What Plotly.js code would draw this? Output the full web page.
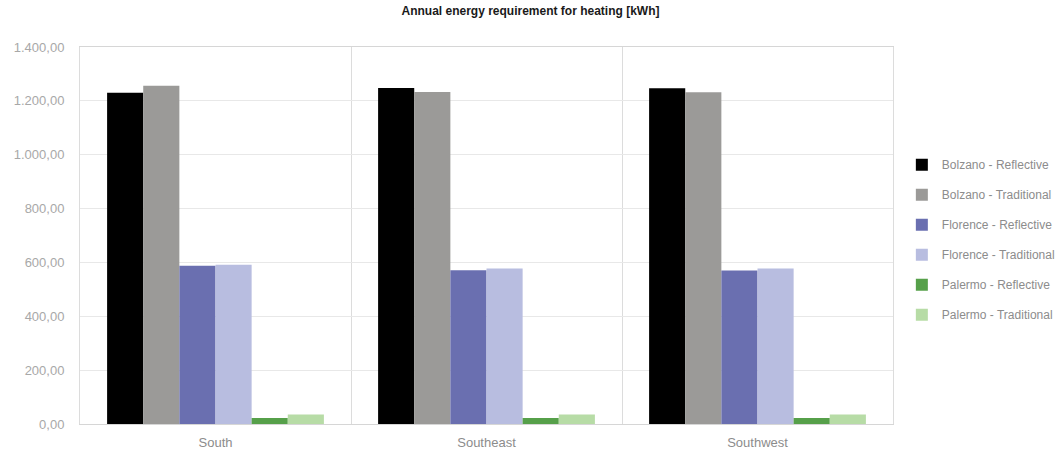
<!DOCTYPE html>
<html><head><meta charset="utf-8">
<script src="https://cdn.plot.ly/plotly-3.0.1.min.js"></script>
<style>html,body{margin:0;padding:0;background:#fff}</style>
</head><body>
<div id="chart" style="width:1061px;height:456px"></div>
<script>
const categories = ["South", "Southeast", "Southwest"];
const seriesNames = ["Bolzano - Reflective", "Bolzano - Traditional", "Florence - Reflective", "Florence - Traditional", "Palermo - Reflective", "Palermo - Traditional"];
const bolzanoReflective = [1230, 1248, 1247];
const bolzanoTraditional = [1256, 1233, 1232];
const florenceReflective = [588, 571, 570];
const florenceTraditional = [591, 577, 577];
const palermoReflective = [22, 22, 22];
const palermoTraditional = [35, 35, 35];
const colors = ["#000000", "#9b9a98", "#6a6fb0", "#b8bde0", "#56a04a", "#b7dca6"];
const values = [bolzanoReflective, bolzanoTraditional, florenceReflective, florenceTraditional, palermoReflective, palermoTraditional];

const font = "'Liberation Sans', Arial, sans-serif";
const traces = values.map((v, i) => ({
  type: "bar", x: categories, y: v, name: seriesNames[i],
  legendgroup: "g" + i,
  marker: {color: colors[i], line: {width: 0}},
  hoverinfo: "skip"
}));

const layout = {
  width: 1061, height: 456,
  margin: {l: 80, r: 168, t: 47, b: 32},
  paper_bgcolor: "#fff", plot_bgcolor: "#fff",
  separators: ",.",
  barmode: "group", bargap: 0.2, bargroupgap: 0,
  title: {text: "Annual energy requirement for heating [kWh]", x: 0.5, xanchor: "center", y: 0.985, yanchor: "top",
    font: {family: font, size: 12, color: "#1a1a1a", weight: "bold"}},
  font: {family: font, color: "#8c8c8c", size: 13},
  xaxis: {tickson: "boundaries", showgrid: true, gridcolor: "#dcdcdc", gridwidth: 1,
    ticks: "", showline: true, linecolor: "#d6d6d6", mirror: true, ticklabelstandoff: 6,
    tickfont: {family: font, size: 13, color: "#8c8c8c"}},
  yaxis: {range: [0, 1400], dtick: 200, tickformat: ",.2f", gridcolor: "#e8e8e8",
    zeroline: false, showline: true, linecolor: "#dcdcdc", mirror: true, ticks: "", ticklabelstandoff: 12,
    tickfont: {family: font, size: 13, color: "#a8a8a8"}},
  legend: {xref: "container", x: 0.85, xanchor: "left", y: 0.489, yanchor: "middle", tracegroupgap: 11,
    font: {family: font, size: 12, color: "#8c8c8c"}, itemwidth: 30},
  showlegend: true
};
Plotly.newPlot("chart", traces, layout, {displayModeBar: false, staticPlot: true});
</script>
</body></html>
